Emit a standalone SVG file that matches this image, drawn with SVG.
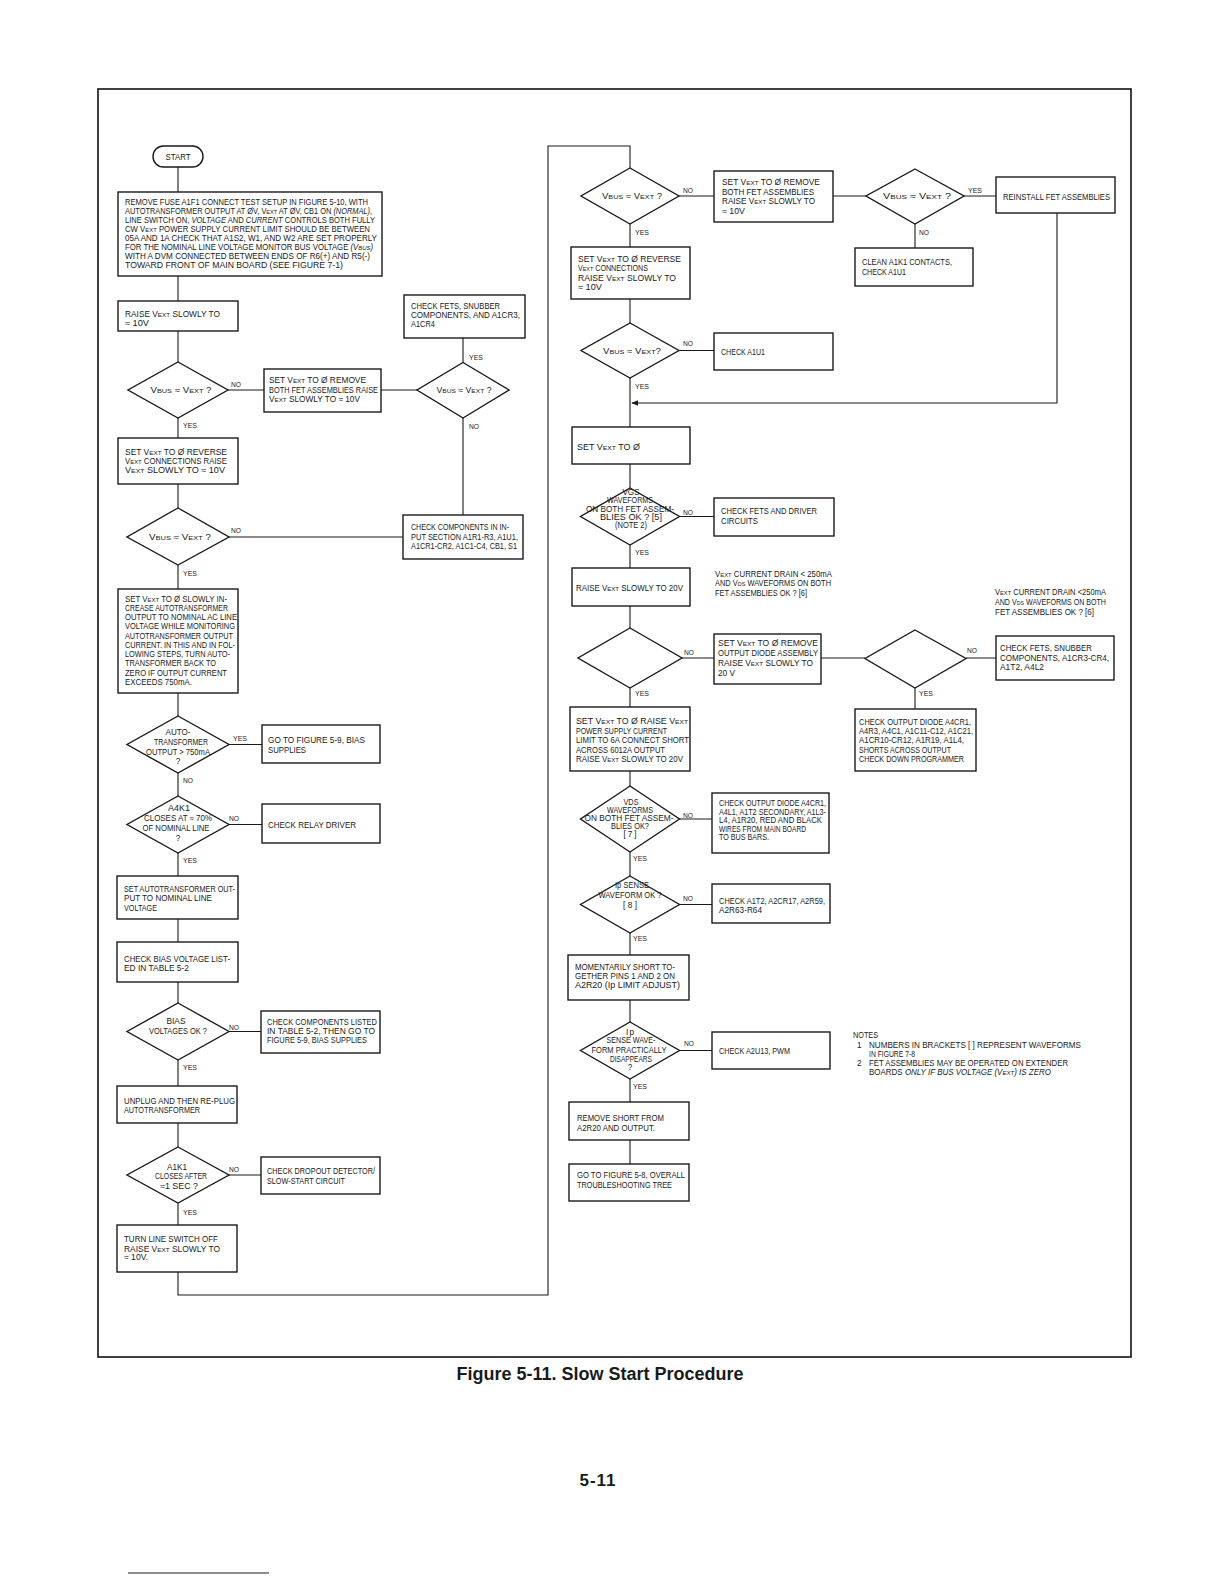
<svg xmlns="http://www.w3.org/2000/svg" width="1224" height="1584" viewBox="0 0 1224 1584">
<defs>
<marker id="ah" viewBox="0 0 10 10" refX="9" refY="5" markerWidth="7" markerHeight="7" orient="auto" markerUnits="userSpaceOnUse"><path d="M0,1 L10,5 L0,9 Z" fill="#1a1a1a"/></marker>
</defs>
<style>
.n rect, .n polygon {fill:#fff; stroke:#1a1a1a; stroke-width:1.4}
text {font-family:"Liberation Sans", Arial, sans-serif; font-size:8.2px; fill:#1a1a1a}
.c {text-anchor:middle}
.s {font-size:6.2px}
.i {font-style:italic}
.lb {font-size:7.8px}
.title {font-size:18px; font-weight:bold}
.page {font-size:17px; font-weight:bold; letter-spacing:1px}
#connectors path {stroke:#1a1a1a; stroke-width:1.1; fill:none}
.frame {fill:none; stroke:#111; stroke-width:1.6}
</style>
<rect width="1224" height="1584" style="fill:#fff;stroke:none"/>
<rect class="frame" x="98" y="89" width="1033" height="1268"/>

<g id="connectors">
<path d="M178,167 V192 M178,276 V301 M178,331 V362 M228,390 H264 M381,390 H417 M463,338 V362.5 M463,418 V515 M178,418 V438 M178,484 V508 M229,537 H403 M178,565 V589 M178,693 V716 M229,744.5 H262 M178,773 V796 M229,824.5 H262 M178,853 V876 M178,919 V942 M178,982 V1003 M229,1031.5 H261 M178,1060 V1086 M178,1123 V1147 M229,1175 H261 M178,1203 V1225"/>
<path d="M178,1272 V1295 H548 V146 H630 V168"/>
<path d="M679,196 H714 M833,196 H866 M964,196 H996 M915,224 V248 M630,224 V247 M630,299 V323 M679,350.5 H714 M630,378 V427"/>
<path d="M1057,213 V403 H632" marker-end="url(#ah)"/>
<path d="M630,464 V488 M679.5,516.5 H714 M630,545 V568 M630,606 V628 M682,658 H714 M821,658 H865 M966,658 H996 M915,688 V709 M630,688 V707 M630,771 V786 M679.5,819 H712 M630,852 V876 M679.5,904.5 H712 M630,933 V955 M630,1000 V1022 M679.5,1050.5 H712 M630,1079 V1102 M630,1140 V1164"/>
</g>

<g id="start" class="n"><rect x="153" y="146" width="50" height="21" rx="10.5"/><text class="c" x="178" y="159.5" textLength="25" lengthAdjust="spacingAndGlyphs">START</text></g>

<g id="n-setup" class="n"><rect x="118" y="192" width="264" height="84"/>
<text x="125" y="205" textLength="243" lengthAdjust="spacingAndGlyphs">REMOVE FUSE A1F1 CONNECT TEST SETUP IN FIGURE 5-10, WITH</text>
<text x="125" y="214" textLength="247" lengthAdjust="spacingAndGlyphs">AUTOTRANSFORMER OUTPUT AT ØV, V<tspan class="s">EXT</tspan> AT ØV, CB1 ON <tspan class="i">(NORMAL)</tspan>,</text>
<text x="125" y="223" textLength="250" lengthAdjust="spacingAndGlyphs">LINE SWITCH ON, <tspan class="i">VOLTAGE</tspan> AND <tspan class="i">CURRENT</tspan> CONTROLS BOTH FULLY</text>
<text x="125" y="232" textLength="245" lengthAdjust="spacingAndGlyphs">CW V<tspan class="s">EXT</tspan> POWER SUPPLY CURRENT LIMIT SHOULD BE BETWEEN</text>
<text x="125" y="241" textLength="252" lengthAdjust="spacingAndGlyphs">05A AND 1A CHECK THAT A1S2, W1, AND W2 ARE SET PROPERLY</text>
<text x="125" y="250" textLength="248" lengthAdjust="spacingAndGlyphs">FOR THE NOMINAL LINE VOLTAGE MONITOR BUS VOLTAGE <tspan class="i">(V<tspan class="s">BUS</tspan>)</tspan></text>
<text x="125" y="259" textLength="245" lengthAdjust="spacingAndGlyphs">WITH A DVM CONNECTED BETWEEN ENDS OF R6(+) AND R5(-)</text>
<text x="125" y="268" textLength="218" lengthAdjust="spacingAndGlyphs">TOWARD FRONT OF MAIN BOARD (SEE FIGURE 7-1)</text>
</g>

<g id="n-raise10" class="n"><rect x="118" y="301" width="120" height="30"/>
<text x="125" y="317" textLength="95" lengthAdjust="spacingAndGlyphs">RAISE V<tspan class="s">EXT</tspan> SLOWLY TO</text>
<text x="125" y="326" textLength="24" lengthAdjust="spacingAndGlyphs">≈ 10V</text>
</g>

<g id="d-vbus1" class="n"><polygon points="178,362 228,390 178,418 128,390"/>
<text class="c" x="181" y="393" textLength="61" lengthAdjust="spacingAndGlyphs">V<tspan class="s">BUS</tspan> ≈ V<tspan class="s">EXT</tspan> ?</text>
<text class="lb" x="231" y="387" textLength="10" lengthAdjust="spacingAndGlyphs">NO</text>
<text class="lb" x="183" y="428" textLength="14" lengthAdjust="spacingAndGlyphs">YES</text>
</g>

<g id="n-removefet1" class="n"><rect x="264" y="369" width="117" height="43"/>
<text x="269" y="383" textLength="97" lengthAdjust="spacingAndGlyphs">SET V<tspan class="s">EXT</tspan> TO Ø  REMOVE</text>
<text x="269" y="392.5" textLength="109" lengthAdjust="spacingAndGlyphs">BOTH FET ASSEMBLIES RAISE</text>
<text x="269" y="402" textLength="91" lengthAdjust="spacingAndGlyphs">V<tspan class="s">EXT</tspan> SLOWLY TO ≈ 10V</text>
</g>

<g id="d-vbus2" class="n"><polygon points="463,362.5 509,390 463,418 417,390"/>
<text class="c" x="464" y="393" textLength="55" lengthAdjust="spacingAndGlyphs">V<tspan class="s">BUS</tspan> ≈ V<tspan class="s">EXT</tspan> ?</text>
<text class="lb" x="469" y="360" textLength="14" lengthAdjust="spacingAndGlyphs">YES</text>
<text class="lb" x="469" y="429" textLength="10" lengthAdjust="spacingAndGlyphs">NO</text>
</g>

<g id="n-checkfets1" class="n"><rect x="404" y="295" width="121" height="43"/>
<text x="411" y="309" textLength="89" lengthAdjust="spacingAndGlyphs">CHECK FETS, SNUBBER</text>
<text x="411" y="318" textLength="109" lengthAdjust="spacingAndGlyphs">COMPONENTS, AND A1CR3,</text>
<text x="411" y="326.5" textLength="24" lengthAdjust="spacingAndGlyphs">A1CR4</text>
</g>

<g id="n-reverse1" class="n"><rect x="118" y="438" width="120" height="46"/>
<text x="125" y="455" textLength="102" lengthAdjust="spacingAndGlyphs">SET V<tspan class="s">EXT</tspan> TO Ø  REVERSE</text>
<text x="125" y="464" textLength="102" lengthAdjust="spacingAndGlyphs">V<tspan class="s">EXT</tspan> CONNECTIONS RAISE</text>
<text x="125" y="473" textLength="100" lengthAdjust="spacingAndGlyphs">V<tspan class="s">EXT</tspan> SLOWLY TO ≈ 10V</text>
</g>

<g id="d-vbus3" class="n"><polygon points="178,508 229,537 178,565 127,537"/>
<text class="c" x="180" y="540" textLength="62" lengthAdjust="spacingAndGlyphs">V<tspan class="s">BUS</tspan> ≈ V<tspan class="s">EXT</tspan> ?</text>
<text class="lb" x="231" y="533" textLength="10" lengthAdjust="spacingAndGlyphs">NO</text>
<text class="lb" x="183" y="576" textLength="14" lengthAdjust="spacingAndGlyphs">YES</text>
</g>

<g id="n-inputsection" class="n"><rect x="403" y="515" width="120" height="44"/>
<text x="411" y="530" textLength="98" lengthAdjust="spacingAndGlyphs">CHECK COMPONENTS IN IN-</text>
<text x="411" y="540" textLength="107" lengthAdjust="spacingAndGlyphs">PUT SECTION A1R1-R3, A1U1,</text>
<text x="411" y="549" textLength="106" lengthAdjust="spacingAndGlyphs">A1CR1-CR2, A1C1-C4, CB1, S1</text>
</g>

<g id="n-autotrans" class="n"><rect x="118" y="589" width="120" height="104"/>
<text x="125" y="601.5" textLength="102" lengthAdjust="spacingAndGlyphs">SET V<tspan class="s">EXT</tspan> TO Ø  SLOWLY IN-</text>
<text x="125" y="610.8" textLength="103" lengthAdjust="spacingAndGlyphs">CREASE AUTOTRANSFORMER</text>
<text x="125" y="620" textLength="112" lengthAdjust="spacingAndGlyphs">OUTPUT TO NOMINAL AC LINE</text>
<text x="125" y="629.3" textLength="110" lengthAdjust="spacingAndGlyphs">VOLTAGE WHILE MONITORING</text>
<text x="125" y="638.5" textLength="108" lengthAdjust="spacingAndGlyphs">AUTOTRANSFORMER OUTPUT</text>
<text x="125" y="647.8" textLength="110" lengthAdjust="spacingAndGlyphs">CURRENT. IN THIS AND IN FOL-</text>
<text x="125" y="657" textLength="105" lengthAdjust="spacingAndGlyphs">LOWING STEPS, TURN AUTO-</text>
<text x="125" y="666.3" textLength="91" lengthAdjust="spacingAndGlyphs">TRANSFORMER BACK TO</text>
<text x="125" y="675.5" textLength="102" lengthAdjust="spacingAndGlyphs">ZERO IF OUTPUT CURRENT</text>
<text x="125" y="684.8" textLength="67" lengthAdjust="spacingAndGlyphs">EXCEEDS 750mA.</text>
</g>

<g id="d-750" class="n"><polygon points="178,716 229,744.5 178,773 127,744.5"/>
<text class="c" x="178" y="735" textLength="25" lengthAdjust="spacingAndGlyphs">AUTO-</text>
<text class="c" x="181" y="745" textLength="54" lengthAdjust="spacingAndGlyphs">TRANSFORMER</text>
<text class="c" x="178" y="755" textLength="64" lengthAdjust="spacingAndGlyphs">OUTPUT &gt; 750mA</text>
<text class="c" x="178" y="764">?</text>
<text class="lb" x="233" y="741" textLength="14" lengthAdjust="spacingAndGlyphs">YES</text>
<text class="lb" x="183" y="783" textLength="10" lengthAdjust="spacingAndGlyphs">NO</text>
</g>

<g id="n-bias59" class="n"><rect x="262" y="725" width="118" height="38"/>
<text x="268" y="743" textLength="97" lengthAdjust="spacingAndGlyphs">GO TO FIGURE 5-9, BIAS</text>
<text x="268" y="752.5" textLength="38" lengthAdjust="spacingAndGlyphs">SUPPLIES</text>
</g>

<g id="d-a4k1" class="n"><polygon points="178,796 229,824.5 178,853 127,824.5"/>
<text class="c" x="179" y="811" textLength="22" lengthAdjust="spacingAndGlyphs">A4K1</text>
<text class="c" x="178" y="821" textLength="68" lengthAdjust="spacingAndGlyphs">CLOSES AT ≈ 70%</text>
<text class="c" x="176" y="831" textLength="67" lengthAdjust="spacingAndGlyphs">OF NOMINAL LINE</text>
<text class="c" x="178" y="841">?</text>
<text class="lb" x="229" y="821" textLength="10" lengthAdjust="spacingAndGlyphs">NO</text>
<text class="lb" x="183" y="863" textLength="14" lengthAdjust="spacingAndGlyphs">YES</text>
</g>

<g id="n-relay" class="n"><rect x="262" y="804" width="118" height="39"/>
<text x="268" y="828" textLength="88" lengthAdjust="spacingAndGlyphs">CHECK RELAY DRIVER</text>
</g>

<g id="n-setauto" class="n"><rect x="117" y="876" width="121" height="43"/>
<text x="124" y="891.5" textLength="111" lengthAdjust="spacingAndGlyphs">SET AUTOTRANSFORMER OUT-</text>
<text x="124" y="901" textLength="88" lengthAdjust="spacingAndGlyphs">PUT TO NOMINAL LINE</text>
<text x="124" y="910.5" textLength="33" lengthAdjust="spacingAndGlyphs">VOLTAGE</text>
</g>

<g id="n-checkbias" class="n"><rect x="117" y="942" width="121" height="40"/>
<text x="124" y="961.5" textLength="106" lengthAdjust="spacingAndGlyphs">CHECK BIAS VOLTAGE LIST-</text>
<text x="124" y="970.5" textLength="65" lengthAdjust="spacingAndGlyphs">ED IN TABLE 5-2</text>
</g>

<g id="d-bias" class="n"><polygon points="178,1003 229,1031.5 178,1060 127,1031.5"/>
<text class="c" x="176" y="1024" textLength="19" lengthAdjust="spacingAndGlyphs">BIAS</text>
<text class="c" x="178" y="1034" textLength="58" lengthAdjust="spacingAndGlyphs">VOLTAGES OK ?</text>
<text class="lb" x="229" y="1030" textLength="10" lengthAdjust="spacingAndGlyphs">NO</text>
<text class="lb" x="183" y="1070" textLength="14" lengthAdjust="spacingAndGlyphs">YES</text>
</g>

<g id="n-complisted" class="n"><rect x="261" y="1011" width="119" height="42"/>
<text x="267" y="1025" textLength="110" lengthAdjust="spacingAndGlyphs">CHECK COMPONENTS LISTED</text>
<text x="267" y="1034" textLength="108" lengthAdjust="spacingAndGlyphs">IN TABLE 5-2, THEN GO TO</text>
<text x="267" y="1043" textLength="100" lengthAdjust="spacingAndGlyphs">FIGURE 5-9, BIAS SUPPLIES</text>
</g>

<g id="n-unplug" class="n"><rect x="117" y="1086" width="120" height="37"/>
<text x="124" y="1104" textLength="111" lengthAdjust="spacingAndGlyphs">UNPLUG AND THEN RE-PLUG</text>
<text x="124" y="1113" textLength="76" lengthAdjust="spacingAndGlyphs">AUTOTRANSFORMER</text>
</g>

<g id="d-a1k1" class="n"><polygon points="178,1147 229,1175 178,1203 127,1175"/>
<text class="c" x="177" y="1170" textLength="20" lengthAdjust="spacingAndGlyphs">A1K1</text>
<text class="c" x="181" y="1179" textLength="52" lengthAdjust="spacingAndGlyphs">CLOSES AFTER</text>
<text class="c" x="179" y="1189" textLength="38" lengthAdjust="spacingAndGlyphs">≈1 SEC ?</text>
<text class="lb" x="229" y="1172" textLength="10" lengthAdjust="spacingAndGlyphs">NO</text>
<text class="lb" x="183" y="1215" textLength="14" lengthAdjust="spacingAndGlyphs">YES</text>
</g>

<g id="n-dropout" class="n"><rect x="261" y="1157" width="119" height="37"/>
<text x="267" y="1174" textLength="108" lengthAdjust="spacingAndGlyphs">CHECK DROPOUT DETECTOR/</text>
<text x="267" y="1184" textLength="78" lengthAdjust="spacingAndGlyphs">SLOW-START CIRCUIT</text>
</g>

<g id="n-lineoff" class="n"><rect x="117" y="1225" width="120" height="47"/>
<text x="124" y="1241.5" textLength="94" lengthAdjust="spacingAndGlyphs">TURN LINE SWITCH OFF</text>
<text x="124" y="1251.5" textLength="96" lengthAdjust="spacingAndGlyphs">RAISE V<tspan class="s">EXT</tspan> SLOWLY TO</text>
<text x="124" y="1260" textLength="24" lengthAdjust="spacingAndGlyphs">≈ 10V.</text>
</g>

<g id="d-r1" class="n"><polygon points="630,168 679,196 630,224 581,196"/>
<text class="c" x="632" y="199" textLength="60" lengthAdjust="spacingAndGlyphs">V<tspan class="s">BUS</tspan> ≈ V<tspan class="s">EXT</tspan> ?</text>
<text class="lb" x="683" y="193" textLength="10" lengthAdjust="spacingAndGlyphs">NO</text>
<text class="lb" x="635" y="235" textLength="14" lengthAdjust="spacingAndGlyphs">YES</text>
</g>

<g id="n-removefet2" class="n"><rect x="714" y="171" width="119" height="51"/>
<text x="722" y="185" textLength="98" lengthAdjust="spacingAndGlyphs">SET V<tspan class="s">EXT</tspan> TO Ø  REMOVE</text>
<text x="722" y="195" textLength="92" lengthAdjust="spacingAndGlyphs">BOTH FET ASSEMBLIES</text>
<text x="722" y="204" textLength="93" lengthAdjust="spacingAndGlyphs">RAISE V<tspan class="s">EXT</tspan> SLOWLY TO</text>
<text x="722" y="214" textLength="23" lengthAdjust="spacingAndGlyphs">≈ 10V</text>
</g>

<g id="d-r3" class="n"><polygon points="915,169 964,196 915,224 866,196"/>
<text class="c" x="917" y="199" textLength="68" lengthAdjust="spacingAndGlyphs">V<tspan class="s">BUS</tspan> ≈ V<tspan class="s">EXT</tspan> ?</text>
<text class="lb" x="968" y="193" textLength="14" lengthAdjust="spacingAndGlyphs">YES</text>
<text class="lb" x="919" y="235" textLength="10" lengthAdjust="spacingAndGlyphs">NO</text>
</g>

<g id="n-reinstall" class="n"><rect x="996" y="177" width="119" height="36"/>
<text x="1003" y="199.5" textLength="107" lengthAdjust="spacingAndGlyphs">REINSTALL FET ASSEMBLIES</text>
</g>

<g id="n-clean" class="n"><rect x="855" y="248" width="118" height="38"/>
<text x="862" y="265" textLength="90" lengthAdjust="spacingAndGlyphs">CLEAN A1K1 CONTACTS,</text>
<text x="862" y="275" textLength="44" lengthAdjust="spacingAndGlyphs">CHECK A1U1</text>
</g>

<g id="n-reverse2" class="n"><rect x="571" y="247" width="119" height="52"/>
<text x="578" y="261.5" textLength="103" lengthAdjust="spacingAndGlyphs">SET V<tspan class="s">EXT</tspan> TO Ø  REVERSE</text>
<text x="578" y="270.5" textLength="70" lengthAdjust="spacingAndGlyphs">V<tspan class="s">EXT</tspan> CONNECTIONS</text>
<text x="578" y="280.5" textLength="98" lengthAdjust="spacingAndGlyphs">RAISE V<tspan class="s">EXT</tspan> SLOWLY TO</text>
<text x="578" y="289.5" textLength="24" lengthAdjust="spacingAndGlyphs">≈ 10V</text>
</g>

<g id="d-r2" class="n"><polygon points="630,323 679,350.5 630,378 581,350.5"/>
<text class="c" x="632" y="354" textLength="58" lengthAdjust="spacingAndGlyphs">V<tspan class="s">BUS</tspan> ≈ V<tspan class="s">EXT</tspan>?</text>
<text class="lb" x="683" y="346" textLength="10" lengthAdjust="spacingAndGlyphs">NO</text>
<text class="lb" x="635" y="389" textLength="14" lengthAdjust="spacingAndGlyphs">YES</text>
</g>

<g id="n-a1u1" class="n"><rect x="714" y="333" width="119" height="37"/>
<text x="721" y="354.5" textLength="44" lengthAdjust="spacingAndGlyphs">CHECK A1U1</text>
</g>

<g id="n-setzero" class="n"><rect x="572" y="427" width="118" height="37"/>
<text x="577" y="449.5" textLength="63" lengthAdjust="spacingAndGlyphs">SET V<tspan class="s">EXT</tspan> TO Ø</text>
</g>

<g id="d-vgs" class="n"><polygon points="630,488 679.5,516.5 630,545 580.5,516.5"/>
<text class="c" x="631" y="494.5" textLength="17" lengthAdjust="spacingAndGlyphs">VGS</text>
<text class="c" x="630" y="503" textLength="46" lengthAdjust="spacingAndGlyphs">WAVEFORMS</text>
<text class="c" x="630" y="511.5" textLength="88" lengthAdjust="spacingAndGlyphs">ON BOTH FET ASSEM-</text>
<text class="c" x="631" y="520" textLength="62" lengthAdjust="spacingAndGlyphs">BLIES OK ? [5]</text>
<text class="c" x="631" y="528" textLength="32" lengthAdjust="spacingAndGlyphs">(NOTE 2)</text>
<text class="lb" x="683" y="515" textLength="10" lengthAdjust="spacingAndGlyphs">NO</text>
<text class="lb" x="635" y="555" textLength="14" lengthAdjust="spacingAndGlyphs">YES</text>
</g>

<g id="n-driver" class="n"><rect x="714" y="498" width="120" height="38"/>
<text x="721" y="514" textLength="96" lengthAdjust="spacingAndGlyphs">CHECK FETS AND DRIVER</text>
<text x="721" y="524" textLength="37" lengthAdjust="spacingAndGlyphs">CIRCUITS</text>
</g>

<g id="n-raise20" class="n"><rect x="572" y="568" width="118" height="38"/>
<text x="576" y="591" textLength="107" lengthAdjust="spacingAndGlyphs">RAISE V<tspan class="s">EXT</tspan> SLOWLY TO 20V</text>
</g>

<g id="q-drain1">
<text x="715" y="576.5" textLength="117" lengthAdjust="spacingAndGlyphs">V<tspan class="s">EXT</tspan> CURRENT DRAIN &lt; 250mA</text>
<text x="715" y="586" textLength="116" lengthAdjust="spacingAndGlyphs">AND V<tspan class="s">DS</tspan> WAVEFORMS ON BOTH</text>
<text x="715" y="596" textLength="92" lengthAdjust="spacingAndGlyphs">FET ASSEMBLIES OK ? [6]</text>
</g>

<g id="d-drain1" class="n"><polygon points="630,628 682,658 630,688 578,658"/>
<text class="lb" x="684" y="655" textLength="10" lengthAdjust="spacingAndGlyphs">NO</text>
<text class="lb" x="635" y="696" textLength="14" lengthAdjust="spacingAndGlyphs">YES</text>
</g>

<g id="n-removediode" class="n"><rect x="714" y="634" width="107" height="50"/>
<text x="718" y="646" textLength="100" lengthAdjust="spacingAndGlyphs">SET V<tspan class="s">EXT</tspan> TO Ø  REMOVE</text>
<text x="718" y="656" textLength="100" lengthAdjust="spacingAndGlyphs">OUTPUT DIODE ASSEMBLY</text>
<text x="718" y="666" textLength="95" lengthAdjust="spacingAndGlyphs">RAISE V<tspan class="s">EXT</tspan> SLOWLY TO</text>
<text x="718" y="676" textLength="17" lengthAdjust="spacingAndGlyphs">20 V</text>
</g>

<g id="q-drain2">
<text x="995" y="595" textLength="111" lengthAdjust="spacingAndGlyphs">V<tspan class="s">EXT</tspan> CURRENT DRAIN &lt;250mA</text>
<text x="995" y="604.8" textLength="111" lengthAdjust="spacingAndGlyphs">AND V<tspan class="s">DS</tspan> WAVEFORMS ON BOTH</text>
<text x="995" y="614.5" textLength="99" lengthAdjust="spacingAndGlyphs">FET ASSEMBLIES OK ? [6]</text>
</g>

<g id="d-drain2" class="n"><polygon points="915,630 966,658.5 915,688 865,658.5"/>
<text class="lb" x="967" y="653" textLength="10" lengthAdjust="spacingAndGlyphs">NO</text>
<text class="lb" x="919" y="696" textLength="14" lengthAdjust="spacingAndGlyphs">YES</text>
</g>

<g id="n-checkfets2" class="n"><rect x="996" y="636" width="118" height="44"/>
<text x="1000" y="650.5" textLength="92" lengthAdjust="spacingAndGlyphs">CHECK FETS, SNUBBER</text>
<text x="1000" y="660.5" textLength="109" lengthAdjust="spacingAndGlyphs">COMPONENTS, A1CR3-CR4,</text>
<text x="1000" y="670" textLength="44" lengthAdjust="spacingAndGlyphs">A1T2, A4L2</text>
</g>

<g id="n-outdiode1" class="n"><rect x="855" y="709" width="121" height="62"/>
<text x="859" y="725" textLength="112" lengthAdjust="spacingAndGlyphs">CHECK OUTPUT DIODE A4CR1,</text>
<text x="859" y="734" textLength="114" lengthAdjust="spacingAndGlyphs">A4R3, A4C1, A1C11-C12, A1C21,</text>
<text x="859" y="743" textLength="105" lengthAdjust="spacingAndGlyphs">A1CR10-CR12, A1R19, A1L4,</text>
<text x="859" y="752.5" textLength="92" lengthAdjust="spacingAndGlyphs">SHORTS ACROSS OUTPUT</text>
<text x="859" y="762" textLength="105" lengthAdjust="spacingAndGlyphs">CHECK DOWN PROGRAMMER</text>
</g>

<g id="n-short6a" class="n"><rect x="570" y="707" width="120" height="64"/>
<text x="576" y="724" textLength="112" lengthAdjust="spacingAndGlyphs">SET V<tspan class="s">EXT</tspan> TO Ø  RAISE V<tspan class="s">EXT</tspan></text>
<text x="576" y="734" textLength="91" lengthAdjust="spacingAndGlyphs">POWER SUPPLY CURRENT</text>
<text x="576" y="743" textLength="113" lengthAdjust="spacingAndGlyphs">LIMIT TO 6A CONNECT SHORT</text>
<text x="576" y="752.5" textLength="89" lengthAdjust="spacingAndGlyphs">ACROSS 6012A OUTPUT</text>
<text x="576" y="762" textLength="107" lengthAdjust="spacingAndGlyphs">RAISE V<tspan class="s">EXT</tspan> SLOWLY TO 20V</text>
</g>

<g id="d-vds" class="n"><polygon points="630,786 679.5,819 630,852 580.5,819"/>
<text class="c" x="631" y="805" textLength="15" lengthAdjust="spacingAndGlyphs">VDS</text>
<text class="c" x="630" y="812.5" textLength="46" lengthAdjust="spacingAndGlyphs">WAVEFORMS</text>
<text class="c" x="629" y="820.5" textLength="89" lengthAdjust="spacingAndGlyphs">ON BOTH FET ASSEM-</text>
<text class="c" x="630" y="829" textLength="38" lengthAdjust="spacingAndGlyphs">BLIES OK?</text>
<text class="c" x="630" y="837" textLength="13" lengthAdjust="spacing">[7]</text>
<text class="lb" x="683" y="818" textLength="10" lengthAdjust="spacingAndGlyphs">NO</text>
<text class="lb" x="633" y="861" textLength="14" lengthAdjust="spacingAndGlyphs">YES</text>
</g>

<g id="n-outdiode2" class="n"><rect x="712" y="793" width="117" height="60"/>
<text x="719" y="806" textLength="107" lengthAdjust="spacingAndGlyphs">CHECK OUTPUT DIODE A4CR1,</text>
<text x="719" y="814.5" textLength="107" lengthAdjust="spacingAndGlyphs">A4L1, A1T2 SECONDARY, A1L3-</text>
<text x="719" y="823" textLength="103" lengthAdjust="spacingAndGlyphs">L4, A1R20, RED AND BLACK</text>
<text x="719" y="831.5" textLength="87" lengthAdjust="spacingAndGlyphs">WIRES FROM MAIN BOARD</text>
<text x="719" y="840" textLength="50" lengthAdjust="spacingAndGlyphs">TO BUS BARS.</text>
</g>

<g id="d-ipsense" class="n"><polygon points="630,876 679.5,904.5 630,933 580.5,904.5"/>
<text class="c" x="632" y="888" textLength="34" lengthAdjust="spacingAndGlyphs">Ip SENSE</text>
<text class="c" x="630" y="898" textLength="63" lengthAdjust="spacingAndGlyphs">WAVEFORM OK ?</text>
<text class="c" x="630" y="907.5" textLength="14" lengthAdjust="spacing">[8]</text>
<text class="lb" x="683" y="901" textLength="10" lengthAdjust="spacingAndGlyphs">NO</text>
<text class="lb" x="633" y="941" textLength="14" lengthAdjust="spacingAndGlyphs">YES</text>
</g>

<g id="n-a1t2" class="n"><rect x="712" y="884" width="118" height="39"/>
<text x="719" y="904" textLength="106" lengthAdjust="spacingAndGlyphs">CHECK A1T2, A2CR17, A2R59,</text>
<text x="719" y="913" textLength="43" lengthAdjust="spacingAndGlyphs">A2R63-R64</text>
</g>

<g id="n-momentary" class="n"><rect x="568" y="955" width="121" height="45"/>
<text x="575" y="970" textLength="100" lengthAdjust="spacingAndGlyphs">MOMENTARILY SHORT TO-</text>
<text x="575" y="979" textLength="100" lengthAdjust="spacingAndGlyphs">GETHER PINS 1 AND 2 ON</text>
<text x="575" y="988" textLength="105" lengthAdjust="spacingAndGlyphs">A2R20 (Ip LIMIT ADJUST)</text>
</g>

<g id="d-disappears" class="n"><polygon points="630,1022 679.5,1050.5 630,1079 580.5,1050.5"/>
<text class="c" x="630" y="1034.5" textLength="8" lengthAdjust="spacing">Ip</text>
<text class="c" x="631" y="1043" textLength="49" lengthAdjust="spacingAndGlyphs">SENSE WAVE-</text>
<text class="c" x="629" y="1053" textLength="75" lengthAdjust="spacingAndGlyphs">FORM PRACTICALLY</text>
<text class="c" x="631" y="1062" textLength="42" lengthAdjust="spacingAndGlyphs">DISAPPEARS</text>
<text class="c" x="630" y="1069.5">?</text>
<text class="lb" x="684" y="1046" textLength="10" lengthAdjust="spacingAndGlyphs">NO</text>
<text class="lb" x="633" y="1089" textLength="14" lengthAdjust="spacingAndGlyphs">YES</text>
</g>

<g id="n-pwm" class="n"><rect x="712" y="1032" width="118" height="37"/>
<text x="719" y="1054" textLength="71" lengthAdjust="spacingAndGlyphs">CHECK A2U13, PWM</text>
</g>

<g id="n-removeshort" class="n"><rect x="569" y="1102" width="120" height="38"/>
<text x="577" y="1120.5" textLength="87" lengthAdjust="spacingAndGlyphs">REMOVE SHORT FROM</text>
<text x="577" y="1130.5" textLength="78" lengthAdjust="spacingAndGlyphs">A2R20 AND OUTPUT.</text>
</g>

<g id="n-overall" class="n"><rect x="569" y="1164" width="120" height="37"/>
<text x="577" y="1177.5" textLength="108" lengthAdjust="spacingAndGlyphs">GO TO FIGURE 5-8, OVERALL</text>
<text x="577" y="1187.5" textLength="95" lengthAdjust="spacingAndGlyphs">TROUBLESHOOTING TREE</text>
</g>

<g id="notes">
<text x="853" y="1038" textLength="25" lengthAdjust="spacingAndGlyphs">NOTES</text>
<text x="857" y="1048">1</text>
<text x="869" y="1048" textLength="212" lengthAdjust="spacingAndGlyphs">NUMBERS IN BRACKETS [  ] REPRESENT WAVEFORMS</text>
<text x="869" y="1057" textLength="46" lengthAdjust="spacingAndGlyphs">IN FIGURE 7-8</text>
<text x="857" y="1066">2</text>
<text x="869" y="1066" textLength="199" lengthAdjust="spacingAndGlyphs">FET ASSEMBLIES MAY BE OPERATED ON EXTENDER</text>
<text x="869" y="1074.5" textLength="182" lengthAdjust="spacingAndGlyphs">BOARDS <tspan class="i">ONLY IF BUS VOLTAGE (V<tspan class="s">EXT</tspan>) IS ZERO</tspan></text>
</g>

<text class="title" x="600" y="1380" text-anchor="middle">Figure 5-11. Slow Start Procedure</text>
<text class="page" x="598" y="1486" text-anchor="middle">5-11</text>
<path d="M128,1573 H269" stroke="#1a1a1a" stroke-width="1" fill="none"/>
</svg>
